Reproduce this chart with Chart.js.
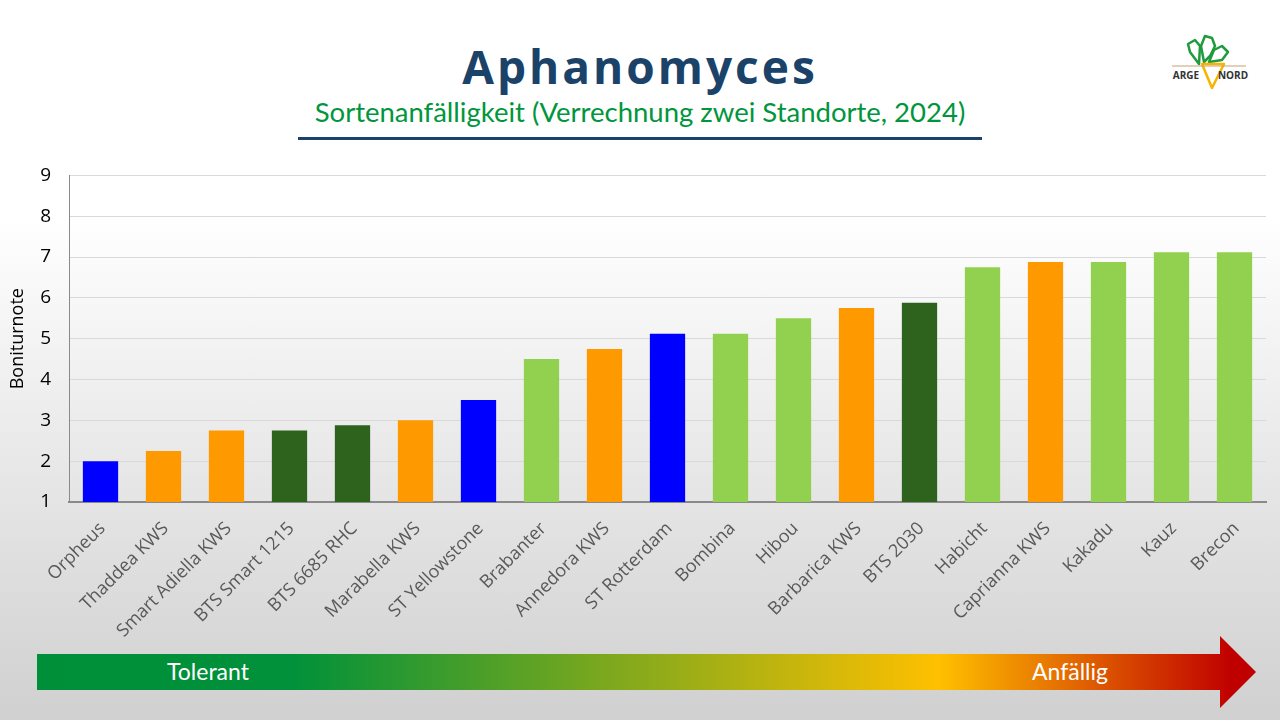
<!DOCTYPE html>
<html lang="de">
<head>
  <meta charset="UTF-8" />
  <title>Aphanomyces</title>
  <style>
    html, body { margin: 0; padding: 0; }
    body {
      width: 1280px;
      height: 720px;
      overflow: hidden;
      position: relative;
      font-family: "Open Sans", Arial, sans-serif;
      background: linear-gradient(to bottom, #ffffff 0%, #ffffff 30%, #d0d0d0 100%);
    }
    .titel {
      position: absolute; left: 0; width: 1280px; top: 36px;
      text-align: center;
      font-size: 46px; font-weight: bold; letter-spacing: 3px;
      color: #1b4268; line-height: 60px;
    }
    .untertitel {
      position: absolute; left: 0; width: 1280px; top: 94px;
      text-align: center;
      font-family: Lato, "Open Sans", sans-serif;
      font-size: 27.5px; color: #00963c; line-height: 36px;
    }
    .linie {
      position: absolute; left: 298px; top: 137px; width: 684px; height: 3px;
      background: #1b4268;
    }
    .chart-box {
      position: absolute; left: 0; top: 146px; width: 1280px; height: 494px;
    }
    svg { position: absolute; left: 0; top: 0; }
  </style>
</head>
<body>
  <div class="titel">Aphanomyces</div>
  <div class="untertitel">Sortenanfälligkeit (Verrechnung zwei Standorte, 2024)</div>
  <div class="linie"></div>

  <svg width="1280" height="720">
    <defs>
      <linearGradient id="pfeilVerlauf" gradientUnits="userSpaceOnUse" x1="37" y1="0" x2="1256" y2="0">
        <stop offset="0" stop-color="#008f39" />
        <stop offset="0.21" stop-color="#00913a" />
        <stop offset="0.74" stop-color="#ffc000" />
        <stop offset="0.98" stop-color="#c00000" />
      </linearGradient>
    </defs>
    <!-- Logo ARGE NORD -->
    <g fill="none" stroke="#1f9a3c" stroke-width="2.5" stroke-linejoin="round">
      <path d="M1199 64 L1190 52 L1188 44 L1195 40 L1200 46 Z" />
      <path d="M1204 62 L1201 46 L1205 36 L1212 38 L1215 46 L1210 56 Z" />
      <path d="M1209 62 L1214 50 L1222 46 L1228 52 L1222 60 Z" />
    </g>
    <path d="M1202 64 L1224 64 L1212 88 Z" fill="#fff" stroke="#f7b500" stroke-width="2.5" stroke-linejoin="round" />
    <line x1="1172" y1="66" x2="1246" y2="66" stroke="#c8a070" stroke-width="1" />
    <text x="1186" y="79" text-anchor="middle" font-family="Open Sans" font-weight="bold" font-size="10" fill="#333">ARGE</text>
    <text x="1233" y="79" text-anchor="middle" font-family="Open Sans" font-weight="bold" font-size="10" fill="#333">NORD</text>

    <!-- Pfeil Tolerant -> Anfällig -->
    <polygon points="37,654 1220,654 1220,636 1256,672 1220,708 1220,690 37,690" fill="url(#pfeilVerlauf)" />
    <text x="208" y="680" text-anchor="middle" font-family="Lato" font-size="23" fill="#ffffff">Tolerant</text>
    <text x="1070" y="680" text-anchor="middle" font-family="Lato" font-size="23" fill="#ffffff">Anfällig</text>
  </svg>

  <div class="chart-box">
    <canvas id="grafik"></canvas>
  </div>

  <script src="https://cdn.jsdelivr.net/npm/chart.js"></script>
  <script>
    // Sorten und Boniturnoten
    const sorten = [
      "Orpheus", "Thaddea KWS", "Smart Adiella KWS", "BTS Smart 1215", "BTS 6685 RHC",
      "Marabella KWS", "ST Yellowstone", "Brabanter", "Annedora KWS", "ST Rotterdam",
      "Bombina", "Hibou", "Barbarica KWS", "BTS 2030", "Habicht",
      "Caprianna KWS", "Kakadu", "Kauz", "Brecon"
    ];
    const noten = [
      2.0, 2.25, 2.75, 2.75, 2.88,
      3.0, 3.5, 4.5, 4.75, 5.12,
      5.12, 5.5, 5.75, 5.88, 6.75,
      6.88, 6.88, 7.12, 7.12
    ];
    // Züchtergruppe je Sorte (bestimmt die Farbe)
    const gruppen = [
      "A", "B", "B", "C", "C",
      "B", "A", "D", "B", "A",
      "D", "D", "B", "C", "D",
      "B", "D", "D", "D"
    ];
    const yTicks = [1, 2, 3, 4, 5, 6, 7, 8, 9];

    const gruppenFarbe = { A: "#0000ff", B: "#ff9900", C: "#2d631d", D: "#92d050" };

    function zeichnen() {
      new Chart(document.getElementById("grafik"), {
        type: "bar",
        data: {
          labels: sorten,
          datasets: [{
            label: "Boniturnote",
            data: noten,
            backgroundColor: gruppen.map(g => gruppenFarbe[g]),
            barPercentage: 0.56,
            categoryPercentage: 1.0
          }]
        },
        options: {
          responsive: true,
          maintainAspectRatio: false,
          animation: false,
          layout: { padding: { top: 10, right: 14, left: 0, bottom: 0 } },
          plugins: { legend: { display: false }, tooltip: { enabled: false } },
          scales: {
            x: {
              grid: { display: false, drawTicks: false },
              border: { display: true, color: "#8a8a8a", width: 2 },
              ticks: {
                autoSkip: false, maxRotation: 45, minRotation: 45,
                color: "#595959", padding: 16, labelOffset: 2,
                font: { family: "'Open Sans'", size: 18 }
              },
              afterFit: s => { s.height = 138; }
            },
            y: {
              min: yTicks[0], max: yTicks[yTicks.length - 1],
              afterBuildTicks: s => { s.ticks = yTicks.map(v => ({ value: v })); },
              grid: { color: "#d9d9d9", lineWidth: 1, drawTicks: false },
              border: { display: true, color: "#8a8a8a", width: 1 },
              ticks: { color: "#000", padding: 18, font: { family: "'Open Sans'", size: 19 } },
              title: {
                display: true, text: "Boniturnote", color: "#000",
                font: { family: "'Open Sans'", size: 18 }, padding: { top: 7, bottom: 0 }
              },
              afterFit: s => { s.width = 69; }
            }
          }
        }
      });
    }

    Promise.all([
      document.fonts.load("18px 'Open Sans'"),
      document.fonts.load("19px 'Open Sans'")
    ]).then(zeichnen, zeichnen);
  </script>
</body>
</html>
